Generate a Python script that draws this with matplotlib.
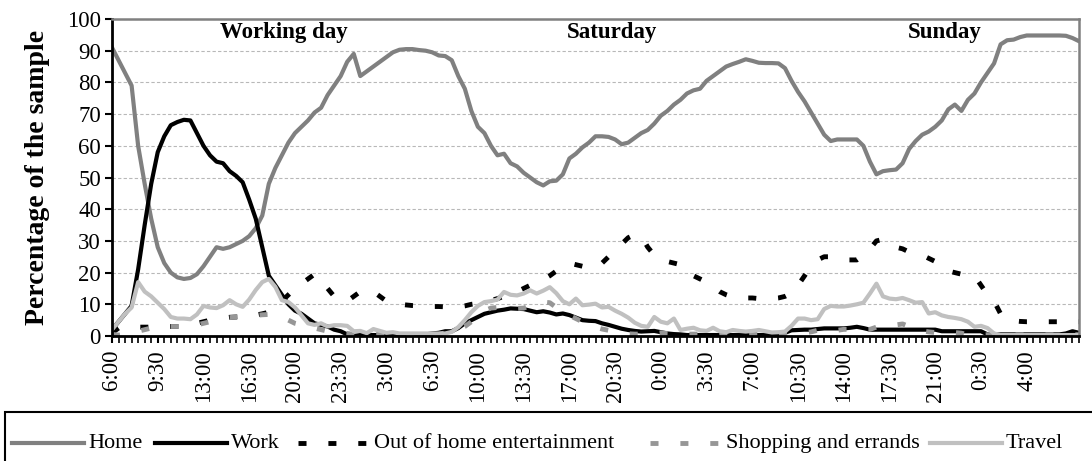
import numpy as np
import matplotlib
matplotlib.use("Agg")
import matplotlib.pyplot as plt
from matplotlib.lines import Line2D
from matplotlib.patches import Rectangle

plt.rcParams['font.family'] = ['Liberation Serif', 'DejaVu Serif']

# half-hour slots from 6:00 on the working day
tick_labels = ['6:00', '9:30', '13:00', '16:30', '20:00', '23:30', '3:00',
               '6:30', '10:00', '13:30', '17:00', '20:30', '0:00', '3:30',
               '7:00', '10:30', '14:00', '17:30', '21:00', '0:30', '4:00']

day_names = ['Working day', 'Saturday', 'Sunday']
day_pos = [26.3, 76.6, 127.5]

home = [
    91, 87, 83, 79, 60, 48, 37, 28, 23, 20,
    18.5, 18, 18.3, 19.5, 22, 25, 28, 27.5, 28, 29,
    30, 31.5, 34, 38, 48, 53, 57, 61, 64, 66,
    68, 70.5, 72, 76, 79, 82, 86.5, 89, 82, 83.5,
    85, 86.5, 88, 89.5, 90.3, 90.5, 90.5, 90.2, 90, 89.5,
    88.5, 88.3, 87, 82, 78, 71, 66, 64, 60, 57,
    57.5, 54.5, 53.5, 51.5, 50, 48.5, 47.5, 48.8, 49, 51,
    56, 57.5, 59.5, 61, 63, 63, 62.8, 62, 60.5, 61,
    62.5, 64, 65, 67, 69.5, 71, 73, 74.5, 76.5, 77.5,
    78, 80.5, 82, 83.5, 85, 85.8, 86.5, 87.3, 86.8, 86.2,
    86.1, 86.1, 86, 84.5, 80.5, 77, 74, 70.5, 67, 63.5,
    61.5, 62, 62, 62, 62, 60, 55, 51, 52, 52.3,
    52.5, 54.5, 59, 61.5, 63.5, 64.5, 66, 68, 71.5, 73,
    71, 74.5, 76.5, 80, 83, 86, 92, 93.3, 93.5, 94.3,
    94.8, 94.8, 94.8, 94.8, 94.8, 94.8, 94.7, 94, 93]

work = [
    2, 4.5, 7, 9.5, 21, 35, 48, 58, 63, 66.5,
    67.5, 68.2, 68, 64, 60, 57, 55, 54.5, 52, 50.5,
    48.5, 43, 37, 28, 19, 16, 13, 10, 8, 7,
    5.5, 4, 3.5, 3, 2, 1.5, 0.5, 0, 0.3, 0.3,
    0.3, 0.3, 0.3, 0.3, 0.3, 0.3, 0.3, 0.5, 0.5, 0.8,
    1, 1.5, 1.5, 2.5, 4, 5, 6, 7, 7.5, 8,
    8.3, 8.7, 8.6, 8.5, 8, 7.5, 7.8, 7.4, 6.8, 7.1,
    6.6, 5.8, 5, 4.8, 4.7, 4, 3.5, 2.9, 2.3, 1.9,
    1.6, 1.4, 1.5, 1.6, 1.2, 0.8, 0.6, 0.5, 0.3, 0.3,
    0.3, 0.3, 0.3, 0.3, 0.3, 0.3, 0.3, 0.3, 0.3, 0.3,
    0.3, 0.3, 0.5, 1, 1.8, 1.9, 2, 2, 2.2, 2.4,
    2.4, 2.4, 2.4, 2.6, 2.9, 2.5, 2, 2, 2, 2,
    2, 2, 2, 2, 2, 2, 2, 1.5, 1.5, 1.5,
    1.5, 1.5, 1.5, 1.5, 0.5, 0.5, 0.5, 0.5, 0.5, 0.5,
    0.5, 0.5, 0.5, 0.5, 0.5, 0.5, 0.8, 1.5, 1]

entertainment = [
    1, 2.5, 2.5, 2.7, 2.8, 2.8, 2.8, 2.9, 3, 3,
    3, 3, 3.5, 4, 4.5, 5, 5.3, 5.6, 5.9, 6,
    6, 6.3, 6.6, 7, 7.5, 9, 11, 13, 15, 16.5,
    18, 19.5, 18, 15, 12.5, 11, 11, 12.5, 14, 14.5,
    14, 12.5, 11, 10.2, 10, 9.8, 9.6, 9.5, 9.4, 9.3,
    9.3, 9.2, 9.2, 9.2, 9.5, 10, 10.3, 10.7, 11.2, 11.8,
    12.5, 13.2, 14, 15, 16, 17, 17.8, 19, 20.5, 22,
    23, 22.5, 22, 21.5, 21.5, 23, 25, 27, 29, 31,
    32, 31.5, 28, 25.5, 24, 23.5, 23, 22.5, 21.5, 19,
    18, 17, 15.5, 14, 13, 12.3, 12, 12, 12, 11.8,
    11.8, 11.8, 12, 12.5, 13.5, 16, 19, 22, 24, 25,
    25, 24.5, 24, 24, 24, 25.5, 27.5, 30, 30.5, 29,
    28, 27.5, 26.5, 26, 25.5, 24.5, 23.5, 22.5, 20.5, 20,
    19.5, 19.2, 19, 16, 13, 11, 7, 5, 4.8, 4.6,
    4.5, 4.5, 4.5, 4.5, 4.5, 4.5, 4.5, 4.5, 4.5]

shopping = [
    0.5, 0.3, 0.5, 1, 1.5, 2, 2.5, 2.5, 2.7, 3,
    3, 3, 3.2, 3.5, 4, 4.5, 5, 5.5, 5.8, 6,
    6.2, 6.4, 6.5, 6.7, 6.8, 6.5, 6, 5, 4, 3.5,
    3, 2.5, 2, 1.5, 1.2, 1, 0.8, 0.5, 0.5, 0.5,
    0.5, 0.5, 0.5, 0.5, 0.5, 0.5, 0.5, 0.5, 0.5, 0.5,
    0.5, 1, 1.5, 2, 3, 4.5, 6.5, 8, 8.8, 9,
    9, 8.8, 8.7, 8.8, 9.5, 10.2, 10.7, 10.5, 9, 7.5,
    6.5, 5.5, 4.5, 3.5, 2.8, 2.2, 1.8, 1.4, 1, 0.7,
    0.6, 0.6, 0.7, 0.8, 1, 0.8, 0.7, 0.6, 0.6, 0.6,
    0.6, 0.6, 0.6, 0.6, 0.6, 0.6, 0.6, 0.6, 0.6, 0.6,
    0.6, 0.8, 0.8, 0.8, 0.8, 0.8, 1, 1.3, 1.8, 1.8,
    1.8, 1.8, 2.1, 2.1, 2.1, 2.1, 2.1, 2.8, 2.8, 2.8,
    3.5, 3.8, 3, 2.2, 1.6, 1.3, 1.1, 1.1, 1.1, 1.1,
    0.9, 0.4, 0.4, 0.4, 0.4, 0.4, 0.4, 0.4, 0.4, 0.4,
    0.4, 0.4, 0.4, 0.4, 0.4, 0.4, 0.4, 0.4, 0.4]

travel = [
    2, 4.5, 7, 9, 17, 14, 12.5, 10.5, 8.5, 6,
    5.5, 5.5, 5.3, 6.8, 9.5, 9, 8.8, 9.7, 11.3, 10,
    9.2, 11.5, 14.5, 17, 18, 15.5, 11.3, 10.7, 9, 6.5,
    4, 3.5, 4, 3, 3.4, 3.4, 3.2, 1.5, 1.6, 0.9,
    2.2, 1.6, 1, 1.2, 0.8, 0.8, 0.8, 0.8, 0.8, 0.8,
    0.8, 0.8, 1.3, 2.8, 5, 7.5, 9.5, 10.7, 11, 11.5,
    13.9, 13, 12.8, 13.4, 14.4, 13.4, 14.3, 15.4, 13.5, 11,
    10, 11.8, 9.7, 9.9, 10.2, 9, 9.2, 8, 7, 5.8,
    4.2, 3.2, 2.9, 6, 4.5, 4, 5.5, 1.9, 2.3, 2.6,
    1.8, 1.6, 2.6, 1.5, 1.2, 1.9, 1.6, 1.4, 1.6, 1.9,
    1.5, 1.1, 1.2, 1.4, 3.2, 5.5, 5.5, 5, 5.3, 8.5,
    9.5, 9.3, 9.3, 9.6, 10, 10.5, 13.4, 16.5, 12.5, 11.8,
    11.6, 12, 11.3, 10.5, 10.7, 7.1, 7.5, 6.5, 6, 5.7,
    5.3, 4.5, 2.9, 3.2, 2.5, 0.8, 0.3, 0.3, 0.3, 0.3,
    0.3, 0.3, 0.3, 0.3, 0.3, 0.3, 0.3, 0.3, 0.3]

x = np.arange(len(home))
W, H = 1092, 461
fig = plt.figure(figsize=(W / 100, H / 100), dpi=100)
ax = fig.add_axes([112 / W, (H - 336) / H, (1079 - 112) / W, (336 - 19) / H])

dash = (0, (1.65, 4.5))
series = [
    (home, 'Home', '#808080', 3, '-'),
    (work, 'Work', 'black', 3, '-'),
    (entertainment, 'Out of home entertainment', 'black', 3.5, dash),
    (shopping, 'Shopping and errands', '#969696', 3.5, dash),
    (travel, 'Travel', '#c0c0c0', 3, '-'),
]
for vals, name, col, lw, ls in series:
    ax.plot(x, vals, color=col, lw=lw, ls=ls, label=name, solid_joinstyle='round')

ax.set_xlim(0, len(home) - 1)
ax.set_ylim(0, 100)
ax.set_yticks(range(0, 101, 10))
ax.set_xticks(range(0, 7 * len(tick_labels), 7))
ax.set_xticklabels(tick_labels, rotation=90)
ax.set_xticks(x, minor=True)
ax.tick_params(axis='both', labelsize=16.5, direction='out', length=5, width=1.5, color='black')
ax.tick_params(axis='x', which='minor', length=5, width=1.2)
ax.tick_params(axis='x', pad=5)
ax.tick_params(axis='y', pad=3)

ax.yaxis.grid(True, linestyle=(0, (3, 2)), color='#b8b8b8', lw=0.8)
ax.set_axisbelow(True)
for side in ['left', 'bottom']:
    ax.spines[side].set_color('black')
    ax.spines[side].set_linewidth(2)
for side in ['top', 'right']:
    ax.spines[side].set_color('#808080')
    ax.spines[side].set_linewidth(1.8)

for name, pos in zip(day_names, day_pos):
    ax.text(pos, 95.8, name, ha='center', va='center', fontsize=16.5, fontweight='bold')

fig.text(38 / W, 0.5 * ((H - 336) + (H - 19)) / H, 'Percentage of the sample',
         rotation=90, ha='center', va='center', fontsize=20, fontweight='bold')

# legend box runs off the bottom and right edge of the image
fig.add_artist(Rectangle((5 / W, -0.2), 1.2, (H - 412) / H + 0.2, transform=fig.transFigure,
                         fill=False, ec='black', lw=1.5, clip_on=False))
legend_x = [12, 155, 298, 650, 930]
leg_y = 18 / H
for (vals, name, col, lw, ls), lx in zip(series, legend_x):
    fig.add_artist(Line2D([lx / W, (lx + 72) / W], [leg_y, leg_y], transform=fig.transFigure,
                          color=col, lw=lw, ls=ls))
    fig.text((lx + 76) / W, leg_y, name, ha='left', va='center', fontsize=16)

fig.savefig('out.png', dpi=100)
